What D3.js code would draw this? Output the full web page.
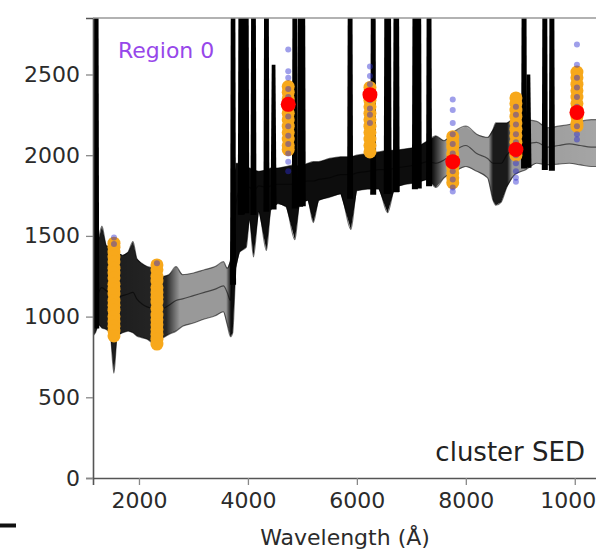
<!DOCTYPE html>
<html>
<head>
<meta charset="utf-8">
<script src="https://cdn.jsdelivr.net/npm/d3@7"></script>
<style>
  body { margin: 0; background: #fff; }
  svg { display: block; font-family: "DejaVu Sans", sans-serif; }
</style>
</head>
<body>
<div class="container"></div>
<script>
// model spectra: wavelength grid with lower / middle / upper envelope of the realisations
var specWave = [1156, 1200, 1260, 1320, 1400, 1470, 1540, 1600, 1700, 1800, 1890, 1960, 2050, 2150, 2250, 2350, 2450, 2550, 2680, 2800,
  3000, 3200, 3400, 3550, 3620, 3680, 3720, 3780, 3850, 3970, 4030, 4102, 4200, 4340, 4420, 4550, 4700, 4862, 4950, 5100,
  5200, 5300, 5500, 5700, 5890, 6000, 6200, 6400, 6563, 6700, 6900, 7100, 7300, 7450, 7600, 7800, 8000, 8200, 8400, 8500,
  8550, 8650, 8750, 8900, 9100, 9300, 9500, 9700, 9900, 10100, 10300, 10500];
var specLow = [880, 900, 950, 930, 920, 900, 650, 880, 900, 910, 900, 880, 870, 860, 840, 850, 870, 890, 910, 940,
  960, 985, 1005, 1030, 950, 875, 900, 1300, 1400, 1430, 1600, 1370, 1650, 1410, 1660, 1700, 1680, 1476, 1700, 1720,
  1582, 1720, 1740, 1760, 1540, 1780, 1790, 1790, 1644, 1800, 1820, 1830, 1850, 1800, 1860, 1900, 1930, 1900, 1860, 1720,
  1690, 1710, 1800, 1880, 1910, 1950, 1940, 1945, 1950, 1940, 1930, 1930];
var specMid = [1000, 1050, 1150, 1180, 1160, 1150, 1130, 1120, 1130, 1140, 1150, 1110, 1080, 1060, 1050, 1040, 1050, 1070, 1100, 1110,
  1130, 1150, 1170, 1190, 1150, 1100, 1300, 1700, 1780, 1790, 1800, 1780, 1810, 1800, 1810, 1820, 1820, 1820, 1830, 1840,
  1840, 1850, 1860, 1880, 1880, 1890, 1900, 1910, 1910, 1920, 1930, 1940, 1960, 1950, 1970, 2030, 2060, 2010, 1980, 1950,
  1950, 1950, 2000, 2050, 2070, 2080, 2050, 2060, 2070, 2060, 2050, 2050];
var specHigh = [1150, 1350, 1480, 1560, 1440, 1430, 1460, 1400, 1380, 1400, 1465, 1360, 1330, 1310, 1300, 1270, 1250, 1260, 1310, 1260,
  1270, 1290, 1310, 1340, 1300, 1350, 1800, 1950, 1950, 1930, 1920, 1910, 1900, 1910, 1920, 1920, 1930, 1940, 1930, 1950,
  1960, 1960, 1980, 1990, 1990, 2000, 2010, 2020, 2030, 2030, 2040, 2050, 2090, 2120, 2090, 2150, 2180, 2130, 2110, 2160,
  2200, 2200, 2200, 2230, 2220, 2210, 2170, 2180, 2190, 2210, 2220, 2220];

// emission lines (rest wavelength, peak flux; most run off the top)
var lineWave = [1216, 3727, 3869, 3889, 3970, 4102, 4340, 4471, 4861, 4959, 5007, 5876, 6300, 6548, 6563, 6583,
  6717, 6731, 7065, 7136, 7325, 9069, 9150, 9450, 9580];
var linePeak = [4000, 4000, 4000, 4000, 4000, 4000, 4000, 2560, 4000, 4000, 4000, 4000, 4000, 4000, 4000, 4000,
  4000, 4000, 4000, 4000, 4000, 4000, 2500, 4000, 4000];

// photometry: band wavelengths, sampled fluxes (orange), observed fluxes (blue), best values (red)
var bandWave = [1541, 2330, 4740, 6240, 7760, 8920, 10040];
var orangeFlux = [
  [1455, 1430, 1400, 1370, 1340, 1300, 1270, 1240, 1200, 1170, 1140, 1100, 1070, 1040, 1000, 970, 940, 910, 880],
  [1320, 1290, 1250, 1220, 1180, 1150, 1120, 1090, 1050, 1010, 980, 950, 920, 890, 860, 830],
  [2425, 2390, 2350, 2300, 2260, 2220, 2180, 2140, 2100, 2060, 2035],
  [2420, 2380, 2340, 2300, 2260, 2220, 2180, 2140, 2100, 2060, 2020],
  [2115, 2080, 2050, 2010, 1980, 1950, 1920, 1890, 1860, 1830],
  [2355, 2320, 2280, 2240, 2200, 2160, 2120, 2080, 2040, 2000],
  [2515, 2480, 2440, 2400, 2360, 2320, 2280, 2240, 2200, 2180]
];
var blueFlux = [
  [1490, 1450],
  [1330],
  [2655, 2520, 2480, 2410, 2360, 2290, 2240, 2180, 2120, 2070, 2010, 1960, 1900],
  [2550, 2490, 2440, 2390, 2340, 2290, 2250, 2200],
  [2345, 2280, 2200, 2130, 2070, 2010, 1950, 1900, 1850, 1800, 1775],
  [2300, 2250, 2190, 2130, 2080, 2000, 1950, 1900, 1860, 1835],
  [2686, 2560, 2480, 2420, 2360, 2300, 2240, 2180, 2130, 2097]
];
var redFlux = [null, null, 2315, 2375, 1960, 2035, 2265];

var xTicks = [2000, 4000, 6000, 8000, 10000];
var yTicks = [0, 500, 1000, 1500, 2000, 2500];

const WIDTH = 596;
const HEIGHT = 550;
const PLOT = {left: 93, right: 602, top: 18, bottom: 478};

// how dark the stacked realisations look along the spectrum
var shadeStops = [[1156, 0.9], [2500, 0.85], [2750, 0.4], [3600, 0.4], [3690, 0.95], [7380, 0.95], [7650, 0.4],
  [8420, 0.4], [8500, 0.9], [8760, 0.9], [8850, 0.4], [10500, 0.35]];

var xScale = d3.scaleLinear().domain([1156, 10500]).range([PLOT.left, PLOT.right]);
var yScale = d3.scaleLinear().domain([0, 2850]).range([PLOT.bottom, PLOT.top]);

var svg = d3.select('.container').append('svg')
  .attr('width', WIDTH)
  .attr('height', HEIGHT);

var defs = svg.append('defs');
defs.append('clipPath').attr('id', 'plotClip')
  .append('rect')
  .attr('x', PLOT.left).attr('y', PLOT.top)
  .attr('width', PLOT.right - PLOT.left).attr('height', PLOT.bottom - PLOT.top);

var grad = defs.append('linearGradient').attr('id', 'shade')
  .attr('gradientUnits', 'userSpaceOnUse')
  .attr('x1', PLOT.left).attr('x2', PLOT.right).attr('y1', 0).attr('y2', 0);
grad.selectAll('stop').data(shadeStops).enter().append('stop')
  .attr('offset', function(d){ return (xScale(d[0]) - PLOT.left) / (PLOT.right - PLOT.left); })
  .attr('stop-color', '#000')
  .attr('stop-opacity', function(d){ return d[1]; });

var plot = svg.append('g').attr('clip-path', 'url(#plotClip)');

var idx = d3.range(specWave.length);

// envelope of the model realisations
var band = d3.area()
  .x(function(i){ return xScale(specWave[i]); })
  .y0(function(i){ return yScale(specLow[i]); })
  .y1(function(i){ return yScale(specHigh[i]); })
  .curve(d3.curveLinear);

plot.append('path').datum(idx)
  .attr('d', band)
  .attr('fill', 'url(#shade)');

[specLow, specMid, specHigh].forEach(function(series){
  var line = d3.line()
    .x(function(i){ return xScale(specWave[i]); })
    .y(function(i){ return yScale(series[i]); })
    .curve(d3.curveMonotoneX);
  plot.append('path').datum(idx)
    .attr('d', line)
    .attr('fill', 'none')
    .attr('stroke', '#000')
    .attr('stroke-opacity', 0.55)
    .attr('stroke-width', 1.2);
});

// emission lines as narrow spikes rising from the continuum
var bisect = d3.bisector(function(d){ return d; }).left;
var continuumAt = function(w) {
  var j = Math.max(1, Math.min(specWave.length - 1, bisect(specWave, w)));
  var t = (w - specWave[j - 1]) / (specWave[j] - specWave[j - 1]);
  return specMid[j - 1] + t * (specMid[j] - specMid[j - 1]);
};

plot.selectAll('.eline')
  .data(lineWave)
  .enter().append('path')
  .attr('class', 'eline')
  .attr('d', function(w, i){
    var base = continuumAt(w) - 150;
    var hb = 55, ht = 34;
    return 'M' + xScale(w - hb) + ',' + yScale(base) +
      'L' + xScale(w - ht) + ',' + yScale(linePeak[i]) +
      'L' + xScale(w + ht) + ',' + yScale(linePeak[i]) +
      'L' + xScale(w + hb) + ',' + yScale(base) + 'Z';
  })
  .attr('fill', '#000');

// photometric points
var flat = function(lists) {
  var out = [];
  lists.forEach(function(list, b){
    list.forEach(function(f){ out.push([bandWave[b], f]); });
  });
  return out;
};

plot.selectAll('.orange')
  .data(flat(orangeFlux))
  .enter().append('circle')
  .attr('class', 'orange')
  .attr('r', 6.5)
  .attr('cx', function(d){ return xScale(d[0]); })
  .attr('cy', function(d){ return yScale(d[1]); })
  .attr('fill', '#f7a81b');

plot.selectAll('.blue')
  .data(flat(blueFlux))
  .enter().append('circle')
  .attr('class', 'blue')
  .attr('r', 3)
  .attr('cx', function(d){ return xScale(d[0]); })
  .attr('cy', function(d){ return yScale(d[1]); })
  .attr('fill', '#2a2ad0')
  .attr('fill-opacity', 0.45);

plot.selectAll('.red')
  .data(bandWave.map(function(w, i){ return [w, redFlux[i]]; }).filter(function(d){ return d[1] != null; }))
  .enter().append('circle')
  .attr('class', 'red')
  .attr('r', 7.5)
  .attr('cx', function(d){ return xScale(d[0]); })
  .attr('cy', function(d){ return yScale(d[1]); })
  .attr('fill', '#ff0000');

// axes
var translate = function(x, y){ return 'translate(' + x + ',' + y + ')'; };

var xAxis = svg.append('g')
  .attr('transform', translate(0, PLOT.bottom))
  .call(d3.axisBottom(xScale).tickValues(xTicks).tickFormat(d3.format('d')).tickSizeOuter(0).tickSize(7).tickPadding(7));

var yAxis = svg.append('g')
  .attr('transform', translate(PLOT.left, 0))
  .call(d3.axisLeft(yScale).tickValues(yTicks).tickFormat(d3.format('d')).tickSizeOuter(0).tickSize(7).tickPadding(6));

[xAxis, yAxis].forEach(function(ax){
  ax.select('.domain').attr('stroke', '#555').attr('stroke-width', 1.6);
  ax.selectAll('.tick line').attr('stroke', '#888').attr('stroke-width', 1.3);
  ax.selectAll('.tick text')
    .attr('fill', '#2b2b2b')
    .style('font-size', '22px')
    .style('font-family', '"DejaVu Sans", sans-serif');
});

svg.append('line')
  .attr('x1', PLOT.left).attr('x2', PLOT.right)
  .attr('y1', PLOT.top).attr('y2', PLOT.top)
  .attr('stroke', '#999').attr('stroke-width', 1.5);

svg.append('text')
  .attr('x', 345).attr('y', 545)
  .attr('text-anchor', 'middle')
  .attr('fill', '#2b2b2b')
  .style('font-size', '22px')
  .text('Wavelength (Å)');

svg.append('text')
  .attr('x', 118).attr('y', 58)
  .attr('fill', '#9747ea')
  .style('font-size', '22px')
  .text('Region 0');

svg.append('text')
  .attr('x', 585).attr('y', 461)
  .attr('text-anchor', 'end')
  .attr('fill', '#222')
  .style('font-size', '26px')
  .text('cluster SED');

// piece of the neighbouring panel peeking in at the lower left
svg.append('line')
  .attr('x1', 0).attr('x2', 16)
  .attr('y1', 525.5).attr('y2', 525.5)
  .attr('stroke', '#111').attr('stroke-width', 4);
</script>
</body>
</html>
